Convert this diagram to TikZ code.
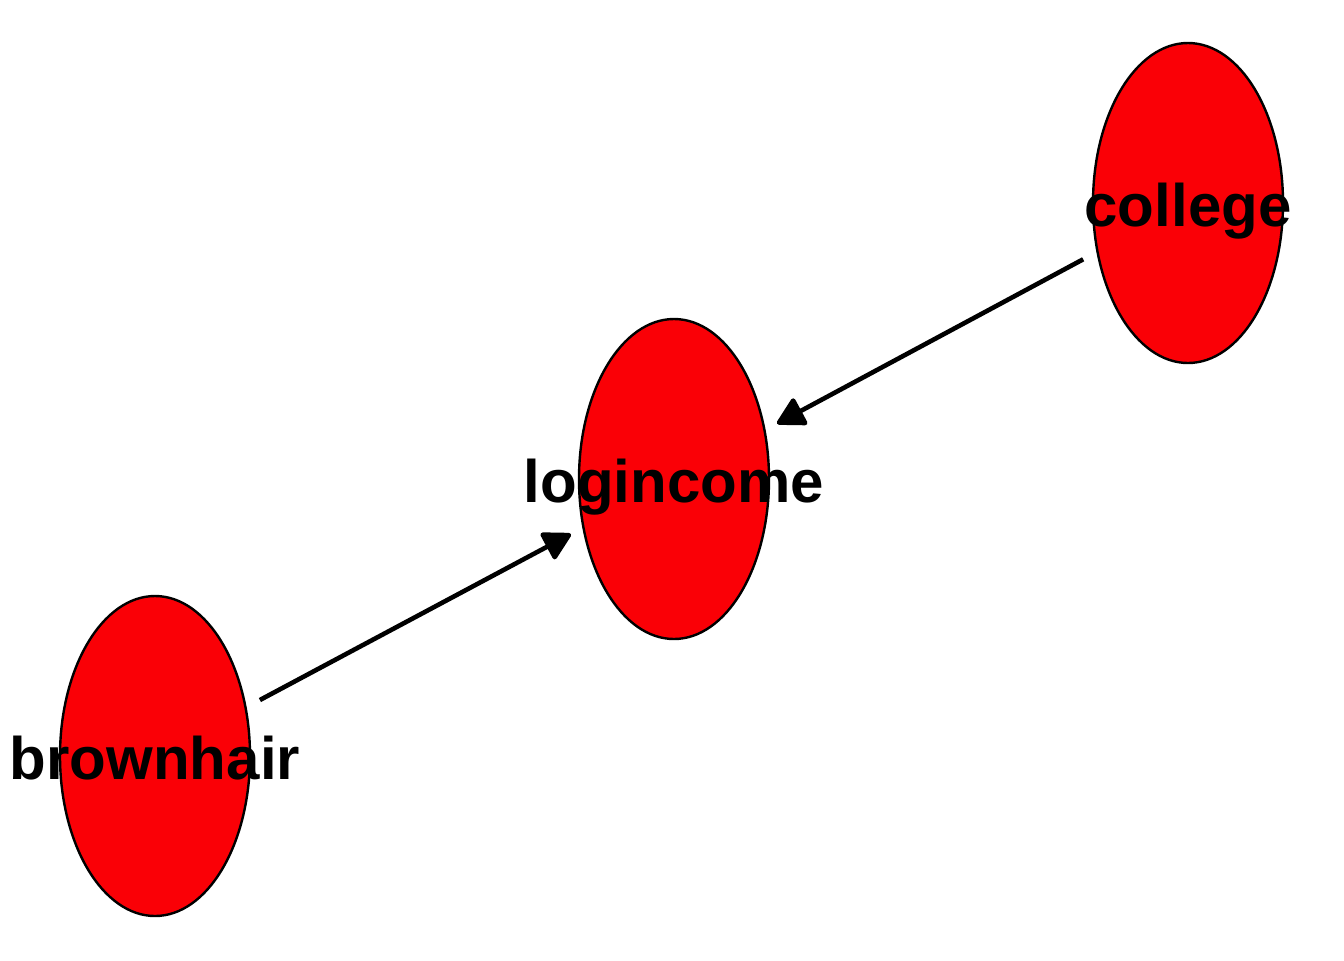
\documentclass[tikz,border=0pt]{standalone}
\usepackage{fontspec}
\setmainfont{Liberation Sans}
\usetikzlibrary{shapes.geometric,arrows.meta}
\definecolor{nodered}{RGB}{250,0,6}
\tikzset{
  vnode/.style={draw=black, line width=1.2pt, fill=nodered, ellipse, inner sep=0pt, minimum width=95pt, minimum height=160pt},
  vlabel/.style={anchor=base, inner sep=0pt, font=\fontsize{30}{36}\selectfont\bfseries},
  edge/.style={line width=2.3pt, -{Triangle[length=15pt,width=16pt,round]}, shorten <=7.5pt, shorten >=6.5pt}
}
\begin{document}
\begin{tikzpicture}[x=0.5pt,y=-0.5pt]
\useasboundingbox (0,0) rectangle (1344,960);
\node[vnode] (college) at (1188,203) {};
\node[vnode] (logincome) at (674,479) {};
\node[vnode] (brownhair) at (155,756) {};
\draw[edge] (college) -- (logincome);
\draw[edge] (brownhair) -- (logincome);
\node[vlabel] (tcollege) at (1188,226) {college};
\node[vlabel] (tlogincome) at (674,502) {logincome};
\node[vlabel] (tbrownhair) at (155,779) {brownhair};
\end{tikzpicture}
\end{document}
